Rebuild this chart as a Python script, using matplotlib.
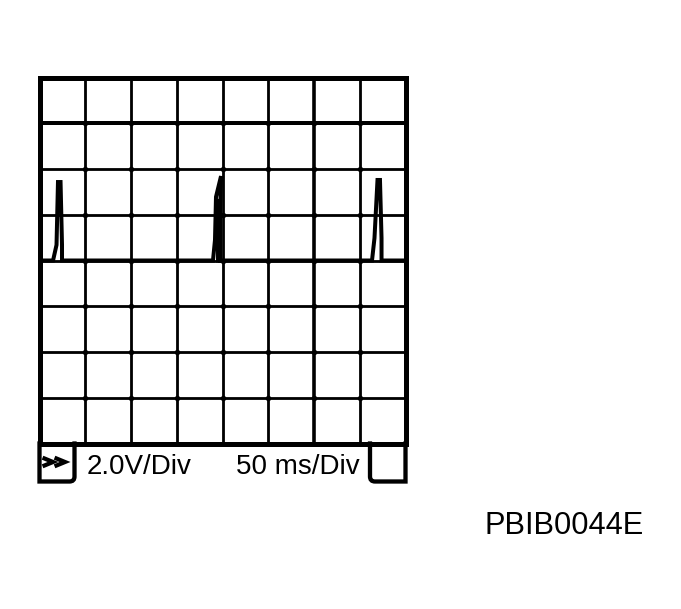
import matplotlib
matplotlib.use("Agg")
import matplotlib.pyplot as plt
from matplotlib.path import Path
from matplotlib.patches import PathPatch, Rectangle

# ---- data ----
time_ticks = [0, 50, 100, 150, 200, 250, 300, 350, 400]          # ms, 50 ms/Div
volt_ticks = [-8, -6, -4, -2, 0, 2, 4, 6, 8]                      # V, 2.0 V/Div
trace_t = [0, 14.8, 18.6, 20.2, 23.0, 24.6, 24.6,
           189.6, 191.8, 192.9, 198.4, 197.3, 197.3, 195.1, 195.1, 197.3, 197.3,
           363.4, 366.1, 369.4, 372.1, 373.8, 373.8, 400]
trace_v = [0, 0, 0.68, 3.43, 3.43, 0.68, 0,
           0, 0.90, 2.78, 3.69, 2.0, 0, 0, 2.6, 2.6, 0,
           0, 0.98, 3.52, 3.52, 0.98, 0, 0]
volt_label = "2.0V/Div"
time_label = "50 ms/Div"
code_label = "PBIB0044E"

W, H = 681, 609
PX = 72.0 / 100  # points per pixel at dpi 100
fig = plt.figure(figsize=(W / 100, H / 100), dpi=100)
fig.patch.set_facecolor("white")

gl, gr, gt, gb = 39.5, 405.5, 77.5, 443.5
ax = fig.add_axes([gl / W, 1 - gb / H, (gr - gl) / W, (gb - gt) / H])
ax.set_xlim(time_ticks[0], time_ticks[-1])
ax.set_ylim(volt_ticks[0], volt_ticks[-1])
ax.axis("off")

# interior grid lines
for t in time_ticks[1:-1]:
    lw = 3.6 if t == 300 else 2.8
    ax.axvline(t, color="black", lw=lw * PX, zorder=1)
for v in volt_ticks[1:-1]:
    lw = 4.0 if v == 6 else 2.8
    ax.axhline(v, color="black", lw=lw * PX, zorder=1)
# dots at intersections
xs, ys = [], []
for t in time_ticks[1:-1]:
    for v in volt_ticks[1:-1]:
        xs.append(t); ys.append(v)
ax.scatter(xs, ys, s=(5.5 * PX) ** 2, color="black", zorder=2, linewidths=0)

# trace
ax.plot(trace_t, trace_v, color="black", lw=4.0 * PX, zorder=3,
        solid_joinstyle="miter", solid_capstyle="butt")

# overlay in pixel coordinates for frame / status bar / labels
ov = fig.add_axes([0, 0, 1, 1], zorder=5)
ov.set_xlim(0, W); ov.set_ylim(H, 0); ov.axis("off"); ov.patch.set_alpha(0)

ov.add_patch(Rectangle((gl, gt), gr - gl, gb - gt, fill=False, lw=5 * PX,
                       ec="black", joinstyle="miter"))
bb = 481.5
r = 5
lb = Path([(gl, gb), (gl, bb), (74.5 - r, bb), (74.5, bb), (74.5, bb - r), (74.5, gb)],
          [Path.MOVETO, Path.LINETO, Path.LINETO, Path.CURVE3, Path.CURVE3, Path.LINETO])
ov.add_patch(PathPatch(lb, fill=False, lw=4.3 * PX, ec="black", joinstyle="miter",
                       capstyle="projecting"))
rb = Path([(370, gb), (370, bb - r), (370, bb), (370 + r, bb), (gr, bb), (gr, gb)],
          [Path.MOVETO, Path.LINETO, Path.CURVE3, Path.CURVE3, Path.LINETO, Path.LINETO])
ov.add_patch(PathPatch(rb, fill=False, lw=4.3 * PX, ec="black", joinstyle="miter",
                       capstyle="projecting"))
# chevrons
for x0 in (44.5, 56.5):
    ov.plot([x0, x0 + 8.5, x0], [458.5, 462, 465.5], color="black", lw=4.2 * PX,
            solid_joinstyle="miter")

font = "Liberation Sans"
ov.text(86.5, 473.5, volt_label, fontsize=27.8 * PX, family=font, ha="left", va="baseline")
ov.text(236.5, 473.5, time_label, fontsize=27.8 * PX, family=font, ha="left", va="baseline")
ov.text(484.5, 533.5, code_label, fontsize=30.8 * PX, family=font, ha="left", va="baseline")

fig.savefig("out.png", dpi=100, facecolor="white")
